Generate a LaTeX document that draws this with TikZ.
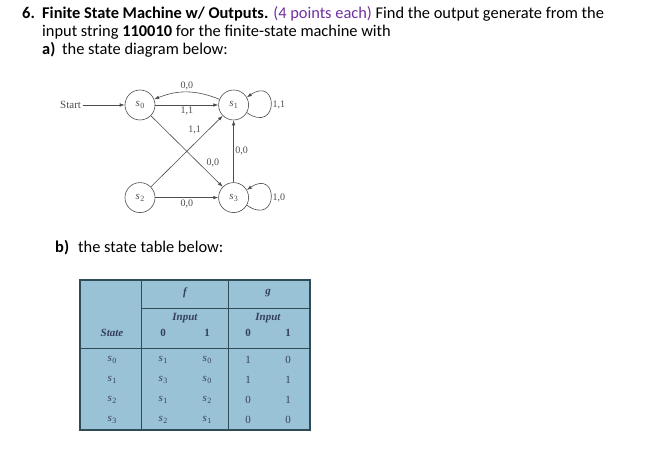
\documentclass[tikz,border=0pt]{standalone}
\usepackage{fontspec}
\setmainfont{Carlito}
\newfontfamily\tms{Liberation Serif}
\usetikzlibrary{arrows.meta,positioning}
\definecolor{lila}{HTML}{7030A0}
\definecolor{ink}{HTML}{4D4D4D}
\definecolor{tab}{HTML}{9AC2D7}
\definecolor{tabline}{HTML}{2E4B56}
\definecolor{tabink}{HTML}{34405A}
\newcommand\sv[1]{\textit{s}\kern0.3pt\raisebox{-0.35ex}{\fontsize{8}{8}\selectfont #1}}
\tikzset{
  st/.style={circle,draw=ink,line width=0.6pt,minimum size=30pt,inner sep=0pt,text=ink,font=\tms\fontsize{11}{11}\selectfont},
  nyl/.style={-{Latex[length=5pt,width=3.5pt]},draw=ink,line width=0.6pt},
  lab/.style={font=\tms\fontsize{10}{10}\selectfont,text=ink,inner sep=1.5pt},
  sor/.style={anchor=base west,inner sep=0pt,font=\fontsize{16.4}{18}\selectfont},
  cel/.style={font=\tms\fontsize{11}{11}\selectfont,text=tabink,inner sep=0pt},
  fej/.style={font=\tms\bfseries\itshape\fontsize{11}{11}\selectfont,text=tabink,inner sep=0pt},
  szam/.style={font=\tms\bfseries\fontsize{11}{11}\selectfont,text=tabink,inner sep=0pt},
}

\begin{document}
\begin{tikzpicture}[x=1pt,y=1pt]
  \useasboundingbox (0,0) rectangle (657,465);

  % question text
  \node[sor] (n6) at (22,446) {\textbf{6.}};
  \node[sor] (l1) at (42,446) {\textbf{Finite State Machine w/ Outputs.} {\color{lila}(4 points each)} Find the output generate from the};
  \node[sor] (l2) at (42,428) {input string \textbf{110010} for the finite-state machine with};
  \node[sor] (pa) at (42,410) {\textbf{a)}};
  \node[sor] (l3) at (62,410) {the state diagram below:};
  \node[sor] (pb) at (55,212) {\textbf{b)}};
  \node[sor] (l4) at (78,212) {the state table below:};

  % state diagram
  \node[st] (s0) at (140,360) {\sv0};
  \node[st] (s1) [right=63pt of s0] {\sv1};
  \node[st] (s2) [below=62pt of s0] {\sv2};
  \node[st] (s3) [right=63pt of s2] {\sv3};
  \node[lab,font=\tms\fontsize{11}{11}\selectfont] (start) [left=42pt of s0] {Start};

  \draw[nyl] (start) -- (s0);
  \draw[nyl] (s1) to[bend right=22] node[lab,above] {0,0} (s0);
  \draw[nyl] (s0) -- node[lab,below] {1,1} (s1);
  \draw[nyl] (s2) -- node[lab,above left,pos=0.72] {1,1} (s1);
  \draw[nyl] (s0) -- node[lab,above right,pos=0.75] {0,0} (s3);
  \draw[nyl] (s3) -- node[lab,right] {0,0} (s1);
  \draw[nyl] (s2) -- node[lab,below] {0,0} (s3);
  \draw[nyl] (s1.-30) .. controls +(32,-22) and +(32,22) .. node[lab,right] {1,1} (s1.30);
  \draw[nyl] (s3.-30) .. controls +(32,-22) and +(32,22) .. node[lab,right] {1,0} (s3.30);

  % state table
  \draw[tabline,fill=tab,line width=1.2pt] (80,35) rectangle (310,185);
  \draw[tabline,line width=0.9pt] (141,35) -- (141,185);
  \draw[tabline,line width=0.9pt] (228,35) -- (228,185);
  \draw[tabline,line width=0.9pt] (141,157) -- (310,157);
  \draw[tabline,line width=0.9pt] (80,117) -- (310,117);

  \node[fej] (hf) at (185,172) {f};
  \node[fej] (hg) at (268,172) {g};
  \node[fej] (hif) at (185,147) {Input};
  \node[fej] (hig) at (268,147) {Input};
  \node[fej] (hst) at (112,132) {State};
  \node[szam] (hf0) at (163,132) {0};
  \node[szam] (hf1) at (207,132) {1};
  \node[szam] (hg0) at (248,132) {0};
  \node[szam] (hg1) at (288,132) {1};

  \foreach \s/\a/\b/\c/\d [count=\i] in {0/1/0/1/0, 1/3/0/1/1, 2/1/2/0/1, 3/2/1/0/0} {
    \pgfmathsetmacro\yy{125-20*\i}
    \node[cel] (r\i s) at (112,\yy) {\sv\s};
    \node[cel] (r\i a) at (163,\yy) {\sv\a};
    \node[cel] (r\i b) at (207,\yy) {\sv\b};
    \node[cel] (r\i c) at (248,\yy) {\c};
    \node[cel] (r\i d) at (288,\yy) {\d};
  }
\end{tikzpicture}
\end{document}
